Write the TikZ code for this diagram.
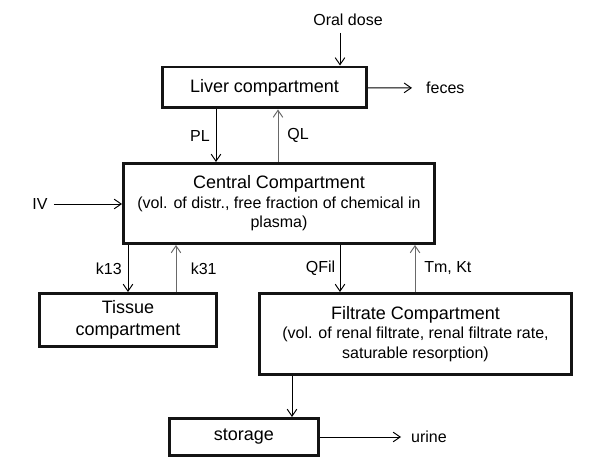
\documentclass[tikz,border=0pt]{standalone}
\usepackage{fontspec}
\setmainfont{Liberation Sans}
\usepackage{tikz}
\usetikzlibrary{arrows,arrows.meta,shapes,positioning}
\definecolor{boxline}{RGB}{20,20,20}
\definecolor{returnflow}{RGB}{105,105,105}
\newcommand{\subline}{\fontsize{9.1}{11.1}\selectfont}

\begin{document}
\begin{tikzpicture}[x=0.02cm, y=-0.02cm,
    comp/.style={draw=boxline, line width=1.7pt, align=center, font=\fontsize{10.24}{11.1}\selectfont},
    lbl/.style={text=black, font=\fontsize{9.1}{11}\selectfont},
    flow/.style={-{Straight Barb[length=4pt,width=5.5pt]}, line width=0.55pt},
    retflow/.style={flow, returnflow}]
        \useasboundingbox (0,0) rectangle (598,472);

        % Compartments
        \node[comp, minimum width=4.08cm, minimum height=0.82cm] (liver) at (264.5,87.5) {Liver compartment};
        \node[comp, minimum width=6.22cm, minimum height=1.6cm] (central) at (279,203.5)
          {Central Compartment\\{\subline (vol. of distr., free fraction of chemical in}\\{\subline plasma)}};
        \node[comp, minimum width=3.54cm, minimum height=1.06cm] (tissue) at (128,320) {Tissue\\[1.4pt]compartment};
        \node[comp, minimum width=6.24cm, minimum height=1.62cm] (filtrate) at (415.5,334)
          {Filtrate Compartment\\{\subline (vol. of renal filtrate, renal filtrate rate,}\\{\subline saturable resorption)}};
        \node[comp, minimum width=2.98cm, minimum height=0.74cm] (storage) at (244,437) {storage};

        % Inputs and outputs
        \node[lbl] (oral) at (348,20) {Oral dose};
        \node[lbl] (iv) at (40,204) {IV};
        \node[lbl, anchor=west] (feces) at (420,88) {feces};
        \node[lbl, anchor=west] (urine) at (405,437) {urine};

        \coordinate (oralx) at (340,33);
        \draw[flow] (oralx) -- (oralx |- liver.north);
        \draw[flow] (iv) -- (iv -| central.west);
        \draw[flow, shorten >=0.16cm] (liver) -- (feces);
        \draw[flow, shorten >=0.08cm] (storage) -- (urine);

        % Exchange between compartments
        \coordinate (plx) at (216,0);
        \coordinate (qlx) at (278,0);
        \coordinate (kax) at (128,0);
        \coordinate (kbx) at (176,0);
        \coordinate (filx) at (340,0);
        \coordinate (tmx) at (415,0);
        \coordinate (stx) at (292,0);

        \draw[flow] (liver.south -| plx) -- (central.north -| plx) node[lbl, midway, left] (plabel) {PL};
        \draw[retflow] (central.north -| qlx) -- (liver.south -| qlx) node[lbl, midway, right, xshift=0.06cm] (qlabel) {QL};
        \draw[flow] (central.south -| kax) -- (tissue.north -| kax) node[lbl, midway, left] (kalabel) {k13};
        \draw[retflow] (tissue.north -| kbx) -- (central.south -| kbx) node[lbl, midway, right, xshift=0.17cm] (kblabel) {k31};
        \draw[flow] (central.south -| filx) -- (filtrate.north -| filx) node[lbl, midway, left, xshift=0.03cm] (fillabel) {QFil};
        \draw[retflow] (filtrate.north -| tmx) -- (central.south -| tmx) node[lbl, midway, right, xshift=0.06cm] (tmlabel) {Tm, Kt};
        \draw[flow] (filtrate.south -| stx) -- (storage.north -| stx);
      \end{tikzpicture}
\end{document}
